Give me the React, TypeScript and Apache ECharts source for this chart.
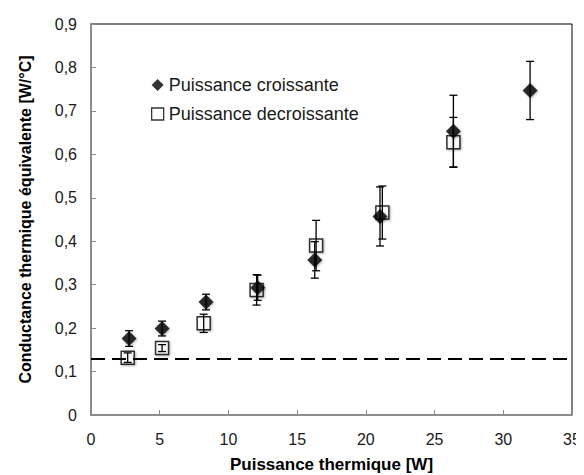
import React, { useEffect, useRef } from "react";
import * as echarts from "echarts";

const xCroissante = [2.77, 5.17, 8.37, 12.13, 16.28, 21.03, 26.37, 31.95];
const yCroissante = [0.176, 0.199, 0.26, 0.293, 0.357, 0.457, 0.653, 0.747];
const errCroissante = [0.018, 0.017, 0.018, 0.029, 0.042, 0.068, 0.083, 0.067];

const xDecroissante = [2.67, 5.17, 8.2, 12.05, 16.38, 21.2, 26.37];
const yDecroissante = [0.132, 0.154, 0.211, 0.288, 0.39, 0.466, 0.628];
const errDecroissante = [0.011, 0.008, 0.021, 0.035, 0.058, 0.061, 0.057];

const referenceLine = [0.127];

const seriesNames = ["Puissance croissante", "Puissance decroissante"];
const xAxisTitle = "Puissance thermique [W]";
const yAxisTitle = "Conductance thermique équivalente [W/°C]";

const FONT = "'Liberation Sans', Arial, sans-serif";

function errorBarSeries(xs: number[], ys: number[], errs: number[], z: number) {
  const data = xs.map((x, i) => [x, ys[i] - errs[i], ys[i] + errs[i]]);
  return {
    type: "custom",
    z,
    silent: true,
    renderItem: (params: any, api: any) => {
      const x = api.value(0);
      const lo = api.coord([x, api.value(1)]);
      const hi = api.coord([x, api.value(2)]);
      const hw = 4;
      const style = { stroke: "#000", lineWidth: 1.3 };
      return {
        type: "group",
        children: [
          { type: "line", shape: { x1: lo[0], y1: lo[1], x2: hi[0], y2: hi[1] }, style },
          { type: "line", shape: { x1: lo[0] - hw, y1: lo[1], x2: lo[0] + hw, y2: lo[1] }, style },
          { type: "line", shape: { x1: hi[0] - hw, y1: hi[1], x2: hi[0] + hw, y2: hi[1] }, style },
        ],
      };
    },
    encode: { x: 0, y: [1, 2] },
    data,
  };
}

export default function App() {
  const ref = useRef<HTMLDivElement>(null);
  useEffect(() => {
    if (!ref.current) return;
    const chart = echarts.init(ref.current, null, { renderer: "svg" });
    const fmtY = (v: number) => (v === 0 ? "0" : v.toFixed(1).replace(".", ","));
    chart.setOption({
      animation: false,
      textStyle: { fontFamily: FONT },
      grid: {
        left: 91,
        right: 12,
        top: 24,
        bottom: 60,
        containLabel: false,
        outerBoundsMode: "none",
        show: true,
        borderColor: "#000",
        borderWidth: 1,
        backgroundColor: "transparent",
      },
      legend: {
        orient: "vertical",
        left: 146,
        top: 71,
        itemGap: 11,
        itemWidth: 12,
        itemHeight: 12,
        textStyle: { fontSize: 18, color: "#1a1a1a", fontFamily: FONT },
        data: [
          { name: seriesNames[0], icon: "diamond", itemStyle: { color: "#000" } },
          {
            name: seriesNames[1],
            icon: "rect",
            itemStyle: { color: "#fff", borderColor: "#000", borderWidth: 1.3 },
          },
        ],
      },
      xAxis: {
        type: "value",
        min: 0,
        max: 35,
        interval: 5,
        name: xAxisTitle,
        nameLocation: "middle",
        nameGap: 41,
        nameTextStyle: { fontSize: 17, fontWeight: "bold", color: "#000", fontFamily: FONT },
        axisLine: { show: true, lineStyle: { color: "#8c8c8c", width: 2 } },
        axisTick: { show: true, inside: true, length: 5, lineStyle: { color: "#8c8c8c" } },
        axisLabel: { fontSize: 16, color: "#1a1a1a", margin: 16, fontFamily: FONT },
        splitLine: { show: false },
      },
      yAxis: {
        type: "value",
        min: 0,
        max: 0.9,
        interval: 0.1,
        name: yAxisTitle,
        nameLocation: "middle",
        nameGap: 58,
        nameRotate: 90,
        nameTextStyle: { fontSize: 16, fontWeight: "bold", color: "#000", fontFamily: FONT },
        axisLine: { show: true, lineStyle: { color: "#8c8c8c", width: 2 } },
        axisTick: { show: true, inside: true, length: 5, lineStyle: { color: "#8c8c8c" } },
        axisLabel: { fontSize: 16, color: "#1a1a1a", margin: 14, formatter: fmtY, fontFamily: FONT },
        splitLine: { show: false },
      },
      series: [
        {
          name: "ref",
          type: "line",
          data: [],
          z: 1,
          markLine: {
            silent: true,
            symbol: "none",
            label: { show: false },
            lineStyle: { color: "#000", width: 2, type: [14, 7] },
            data: referenceLine.map((v) => ({ yAxis: v })),
          },
        },
        {
          name: seriesNames[1],
          type: "scatter",
          symbol: "rect",
          symbolSize: 13,
          z: 3,
          itemStyle: {
            color: "#fff",
            borderColor: "#000",
            borderWidth: 1.5,
            shadowColor: "rgba(0,0,0,0.35)",
            shadowBlur: 2,
            shadowOffsetX: 1,
            shadowOffsetY: 1,
          },
          data: xDecroissante.map((x, i) => [x, yDecroissante[i]]),
        },
        {
          name: seriesNames[0],
          type: "scatter",
          symbol: "diamond",
          symbolSize: 15,
          z: 4,
          itemStyle: {
            color: "#000",
            shadowColor: "rgba(0,0,0,0.35)",
            shadowBlur: 2,
            shadowOffsetX: 1,
            shadowOffsetY: 1,
          },
          data: xCroissante.map((x, i) => [x, yCroissante[i]]),
        },
        errorBarSeries(xDecroissante, yDecroissante, errDecroissante, 5),
        errorBarSeries(xCroissante, yCroissante, errCroissante, 5),
      ],
    });
    return () => chart.dispose();
  }, []);
  return <div ref={ref} style={{ width: 584, height: 475, marginLeft: -8, marginTop: -8 }} />;
}
